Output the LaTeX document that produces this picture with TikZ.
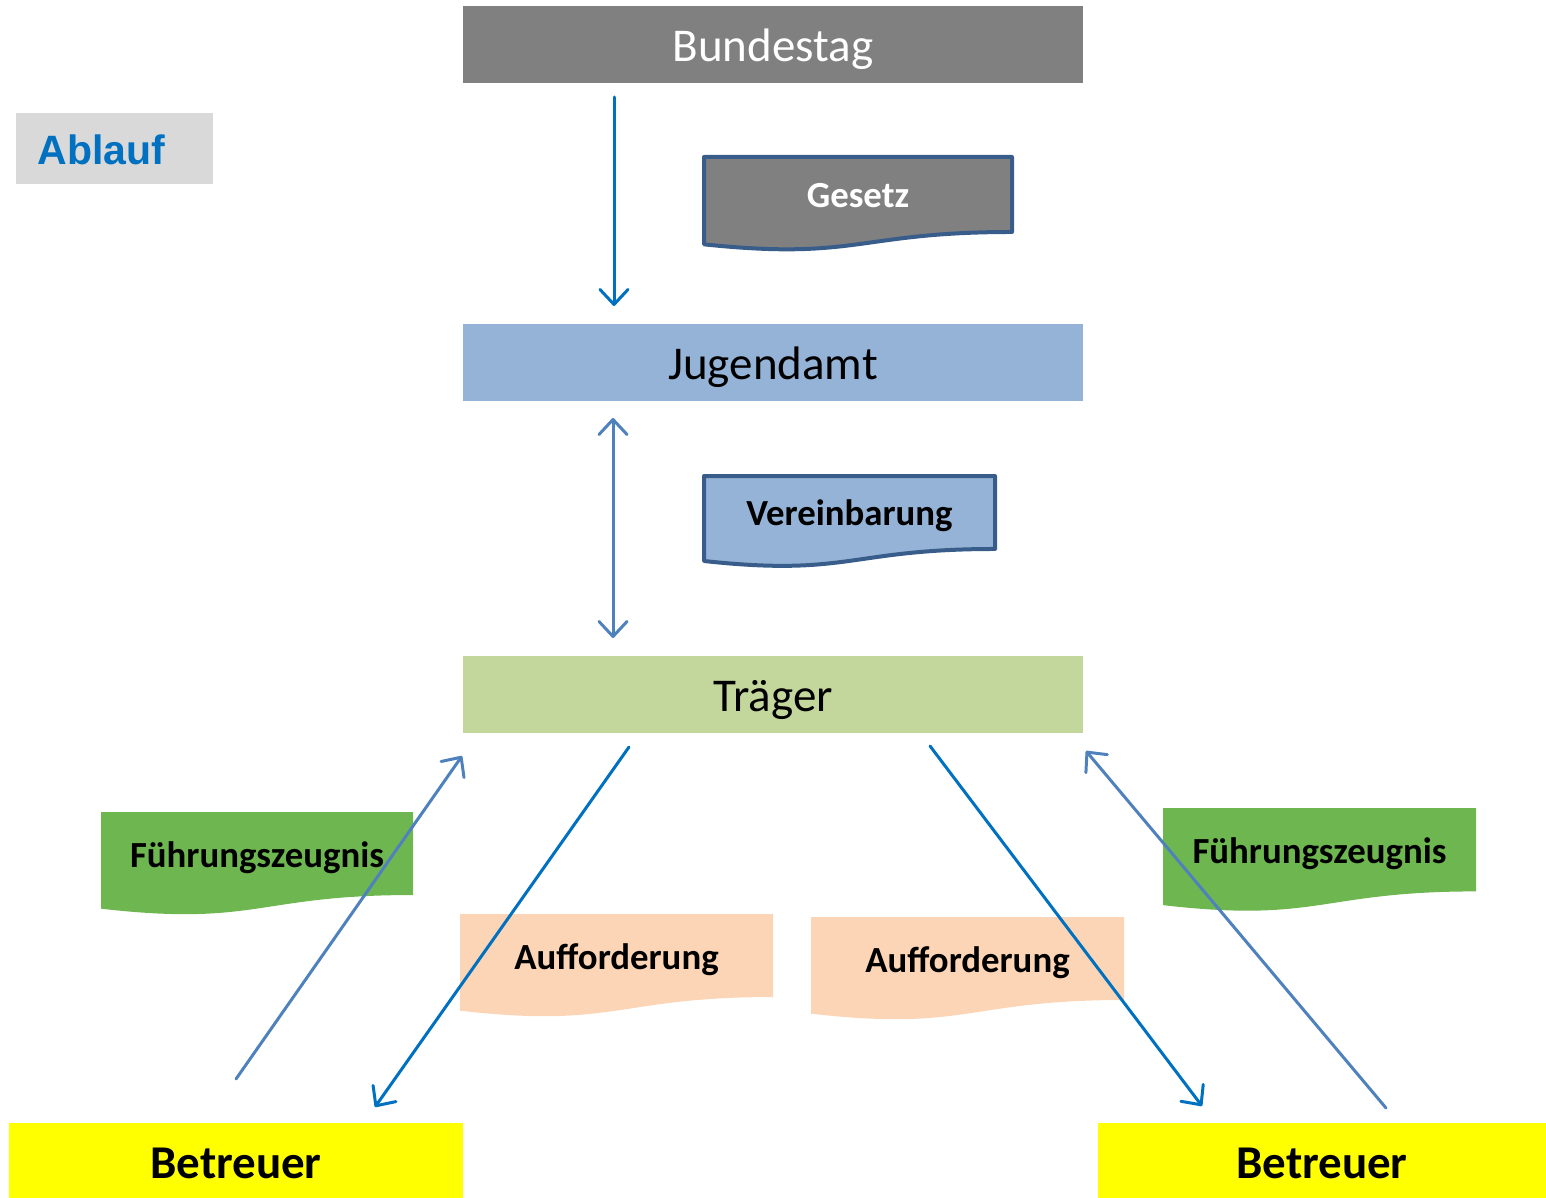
\documentclass[tikz,border=0pt]{standalone}
\usepackage{fontspec}
\setmainfont{Carlito}
\newfontfamily\arialfont{Liberation Sans}
\usetikzlibrary{arrows.meta}
\definecolor{grayfill}{HTML}{808080}
\definecolor{bluefill}{HTML}{95B3D7}
\definecolor{greenfill}{HTML}{C3D69B}
\definecolor{docborder}{HTML}{385D8A}
\definecolor{zeugnis}{RGB}{110,183,80}
\definecolor{peach}{HTML}{FBD5B5}
\definecolor{ablaufbg}{HTML}{D9D9D9}
\definecolor{ablauftext}{HTML}{0070C0}
\definecolor{darkarrow}{HTML}{0070C0}
\definecolor{lightarrow}{HTML}{4F81BD}
\definecolor{betreuerfill}{HTML}{FFFF00}
\tikzset{
  bar/.style={draw=none, minimum width=310pt, minimum height=38.5pt, inner sep=0pt, text height=17pt, text depth=0pt, font=\fontsize{23.5}{28}\selectfont},
  doctext/.style={inner sep=0pt, text height=13.5pt, text depth=0pt, font=\bfseries\fontsize{18.4}{22}\selectfont},
  betreuerbox/.style={draw=none, fill=betreuerfill, minimum height=37.5pt, inner sep=0pt, text height=18pt, text depth=0pt, font=\bfseries\fontsize{23.5}{28}\selectfont},
  flowarrow/.style={line width=1.5pt, line cap=round, -{Straight Barb[length=7.5pt, width=14pt, line cap=round, line join=round]}},
  dflowarrow/.style={line width=1.5pt, line cap=round, {Straight Barb[length=7.5pt, width=14pt, line cap=round, line join=round]}-{Straight Barb[length=7.5pt, width=14pt, line cap=round, line join=round]}},
}
% #1 x, #2 y, #3 w, #4 h, #5 path style, #6 name, #7 text style, #8 text
\newcommand\docshape[8]{%
  \pgfmathsetmacro\dxa{#1+#3}%
  \pgfmathsetmacro\dxm{#1+0.5*#3}%
  \pgfmathsetmacro\dyr{#2+0.802*#4}%
  \pgfmathsetmacro\dyc{#2+1.1075*#4}%
  \pgfmathsetmacro\dyl{#2+0.934*#4}%
  \pgfmathsetmacro\dyt{#2+0.401*#4}%
  \path[#5] (#1,#2) -- (\dxa,#2) -- (\dxa,\dyr) .. controls (\dxm,\dyr) and (\dxm,\dyc) .. (#1,\dyl) -- cycle;
  \node[doctext,#7] (#6) at (\dxm,\dyt) {#8};
}
\begin{document}
\begin{tikzpicture}[x=0.5pt,y=-0.5pt]
\useasboundingbox (0,0) rectangle (1546,1198);

% main bars
\node[bar, fill=grayfill, text=white] (bundestag) at (773,44.5) {Bundestag};
\node[bar, fill=bluefill] (jugendamt) at (773,362.5) {Jugendamt};
\node[bar, fill=greenfill] (traeger) at (773,694.5) {Träger};

% Ablauf
\node[fill=ablaufbg, minimum width=98.5pt, minimum height=35.5pt, inner sep=0pt] (ablauf) at (114.5,148.5) {};
\node[anchor=west, inner sep=0pt, text=ablauftext, font=\arialfont\bfseries\fontsize{20.5}{24}\selectfont] (ablauftxt) at (37,150) {Ablauf};

% documents
\docshape{704}{157}{308}{93.5}{fill=grayfill, draw=docborder, line width=2pt, line join=round}{gesetz}{text=white}{Gesetz}
\docshape{704}{476}{291}{91}{fill=bluefill, draw=docborder, line width=2pt, line join=round}{vereinbarung}{}{Vereinbarung}
\docshape{101}{812}{312}{103.5}{fill=zeugnis}{fz1}{}{Führungszeugnis}
\docshape{1163}{808}{313}{104}{fill=zeugnis}{fz2}{}{Führungszeugnis}
\docshape{460}{914}{313}{103.5}{fill=peach}{auf1}{}{Aufforderung}
\docshape{811}{917}{313}{103.5}{fill=peach}{auf2}{}{Aufforderung}

% Betreuer
\node[betreuerbox, minimum width=227pt] (betreuer1) at (236,1160.5) {Betreuer};
\node[betreuerbox, minimum width=224pt] (betreuer2) at (1322,1160.5) {Betreuer};

% arrow end points
\coordinate (bA) at (614,97);
\coordinate (jA) at (614,306);
\coordinate (jB) at (613,418);
\coordinate (tB) at (613,638);
\coordinate (t1) at (629,747);
\coordinate (b1) at (375,1107);
\coordinate (b1s) at (236,1079);
\coordinate (t1e) at (462,756);
\coordinate (t2) at (930,746);
\coordinate (b2) at (1202,1106);
\coordinate (b2s) at (1386,1108);
\coordinate (t2e) at (1086,751);

\draw[flowarrow, draw=darkarrow] (bA) -- (jA);
\draw[dflowarrow, draw=lightarrow] (jB) -- (tB);
\draw[flowarrow, draw=darkarrow] (t1) -- (b1);
\draw[flowarrow, draw=lightarrow] (b1s) -- (t1e);
\draw[flowarrow, draw=darkarrow] (t2) -- (b2);
\draw[flowarrow, draw=lightarrow] (b2s) -- (t2e);
\end{tikzpicture}
\end{document}
